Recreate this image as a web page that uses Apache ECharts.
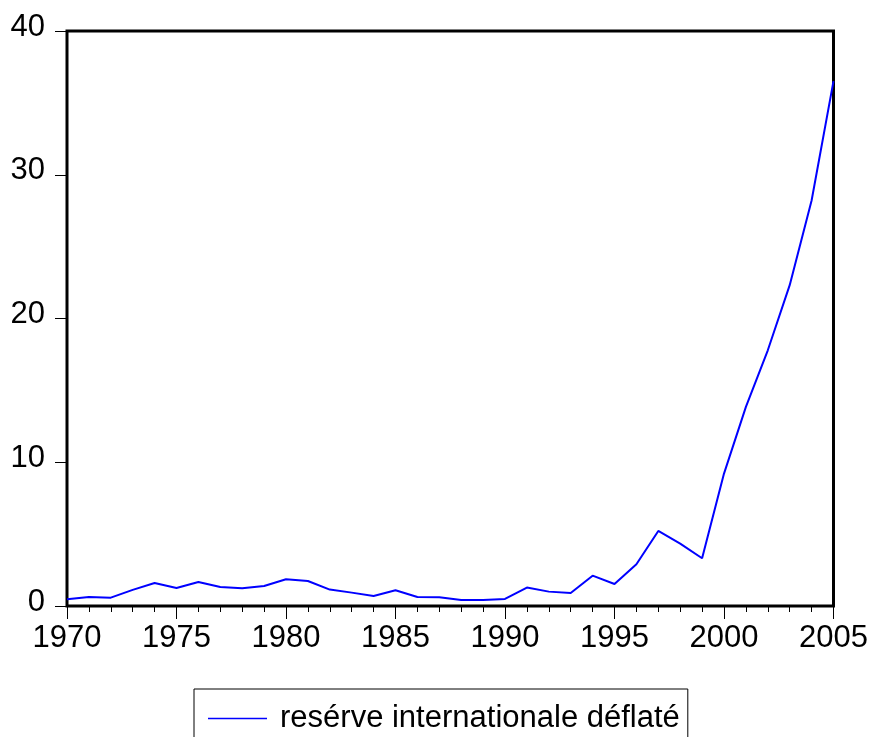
<!DOCTYPE html>
<html>
<head>
<meta charset="utf-8">
<script src="https://cdn.jsdelivr.net/npm/echarts@6/dist/echarts.min.js"></script>
<style>
  html, body { margin: 0; padding: 0; background: #fff; }
  #chart { width: 872px; height: 737px; }
</style>
</head>
<body>
<div id="chart"></div>
<script>
// Years of the annual series
const years = [
  1970, 1971, 1972, 1973, 1974, 1975, 1976, 1977, 1978, 1979,
  1980, 1981, 1982, 1983, 1984, 1985, 1986, 1987, 1988, 1989,
  1990, 1991, 1992, 1993, 1994, 1995, 1996, 1997, 1998, 1999,
  2000, 2001, 2002, 2003, 2004, 2005
];

// Deflated international reserves
const reserves = [
  0.47, 0.63, 0.58, 1.12, 1.60, 1.25, 1.67, 1.32, 1.23, 1.39,
  1.86, 1.74, 1.14, 0.93, 0.70, 1.09, 0.63, 0.61, 0.42, 0.42,
  0.49, 1.28, 1.00, 0.91, 2.11, 1.53, 2.90, 5.22, 4.34, 3.32,
  9.21, 13.85, 17.79, 22.32, 28.21, 36.51
];

const seriesName = 'resérve internationale déflaté';

const fontFamily = '"Liberation Sans", Arial, sans-serif';

const chart = echarts.init(document.getElementById('chart'), null, { renderer: 'canvas' });

chart.setOption({
  backgroundColor: '#ffffff',
  animation: false,
  grid: {
    left: 67,
    right: 38.5,
    top: 31,
    bottom: 131,
    show: true,
    borderColor: '#000',
    borderWidth: 3,
    backgroundColor: 'transparent'
  },
  xAxis: {
    type: 'value',
    min: 1970,
    max: 2005,
    interval: 5,
    axisLine: { show: false },
    splitLine: { show: false },
    axisTick: { show: true, inside: false, length: 13, lineStyle: { color: '#000', width: 1 } },
    minorTick: { show: true, splitNumber: 5, length: 6, lineStyle: { color: '#000', width: 1 } },
    axisLabel: {
      margin: 17,
      color: '#000',
      fontSize: 31,
      fontFamily: fontFamily,
      formatter: v => String(v)
    }
  },
  yAxis: {
    type: 'value',
    min: 0,
    max: 40,
    interval: 10,
    axisLine: { show: false },
    splitLine: { show: false },
    axisTick: { show: true, inside: false, length: 12, lineStyle: { color: '#000', width: 1 } },
    axisLabel: {
      margin: 22,
      color: '#000',
      fontSize: 31,
      fontFamily: fontFamily,
      verticalAlign: 'bottom',
      lineHeight: 8
    }
  },
  legend: {
    show: true,
    left: 194,
    top: 689,
    orient: 'horizontal',
    padding: [14, 8, 14, 14],
    borderColor: '#000',
    borderWidth: 1,
    itemWidth: 59,
    itemHeight: 20,
    textStyle: {
      color: '#000',
      fontSize: 31,
      fontFamily: fontFamily,
      padding: [0, 0, 0, 8]
    },
    data: [{ name: seriesName, icon: 'path://M0,0 L59,0 L59,1.5 L0,1.5 Z', itemStyle: { color: '#0000ff' } }]
  },
  series: [{
    name: seriesName,
    type: 'line',
    data: years.map((y, i) => [y, reserves[i]]),
    showSymbol: false,
    symbol: 'none',
    clip: true,
    lineStyle: { color: '#0000ff', width: 2 },
    itemStyle: { color: '#0000ff' }
  }]
});
</script>
</body>
</html>
